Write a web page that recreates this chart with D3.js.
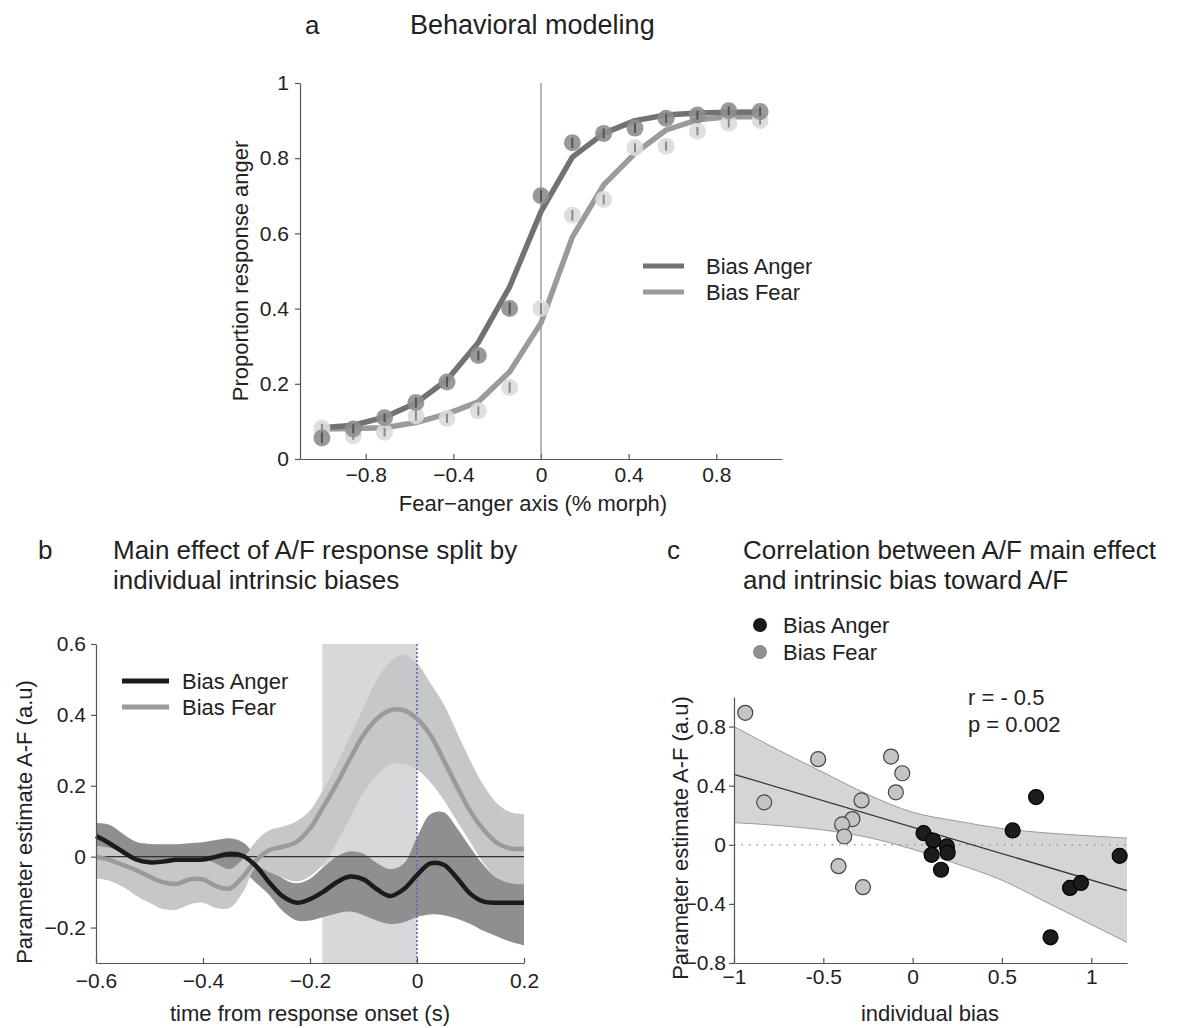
<!DOCTYPE html>
<meta charset="utf-8">
<style>
body { margin: 0; background: #fff; }
svg text { font-family: "Liberation Sans", Arial, sans-serif; fill: #222; }
.axis path, .axis line { stroke: #555; stroke-width: 1.2px; }
.axis text { font-size: 21px; fill: #222; }
.title { font-size: 26px; }
.lab { font-size: 22px; }
</style>
<body>
<script src="https://cdn.jsdelivr.net/npm/d3@7"></script>
<script>

var width = 1189,
    height = 1028;

// ---- panel a: psychometric curves ----
var morph = [-1, -0.857, -0.714, -0.571, -0.429, -0.286, -0.143, 0, 0.143, 0.286, 0.429, 0.571, 0.714, 0.857, 1];
var angerObs = [0.056, 0.08, 0.11, 0.15, 0.205, 0.275, 0.40, 0.70, 0.841, 0.866, 0.88, 0.906, 0.915, 0.926, 0.924];
var fearObs  = [0.082, 0.062, 0.071, 0.115, 0.108, 0.128, 0.19, 0.40, 0.648, 0.69, 0.828, 0.832, 0.872, 0.893, 0.90];
var angerErr = [0.014, 0.012, 0.012, 0.014, 0.014, 0.013, 0.016, 0.016, 0.014, 0.013, 0.013, 0.012, 0.012, 0.012, 0.012];
var fearErr  = [0.012, 0.011, 0.011, 0.013, 0.012, 0.012, 0.014, 0.015, 0.014, 0.013, 0.012, 0.012, 0.011, 0.011, 0.011];
var angerFit = [0.083, 0.09, 0.111, 0.149, 0.21, 0.31, 0.458, 0.658, 0.803, 0.866, 0.90, 0.915, 0.92, 0.922, 0.923];
var fearFit  = [0.08, 0.081, 0.083, 0.097, 0.12, 0.152, 0.232, 0.362, 0.59, 0.729, 0.813, 0.875, 0.902, 0.91, 0.91];
var aXTicks = [-0.8, -0.4, 0, 0.4, 0.8];
var aYTicks = [0, 0.2, 0.4, 0.6, 0.8, 1];

// ---- panel b: time courses ----
var time = [-0.6, -0.575, -0.55, -0.525, -0.5, -0.475, -0.45, -0.425, -0.4, -0.375, -0.35, -0.325, -0.3,
            -0.275, -0.25, -0.225, -0.2, -0.175, -0.15, -0.125, -0.1, -0.075, -0.05, -0.025, 0,
            0.025, 0.05, 0.075, 0.1, 0.125, 0.15, 0.175, 0.2];
var angerMean = [0.058, 0.038, 0.014, -0.008, -0.016, -0.014, -0.009, -0.009, -0.008, 0, 0.008, 0.002, -0.028,
                 -0.075, -0.113, -0.13, -0.12, -0.099, -0.072, -0.056, -0.064, -0.092, -0.111, -0.092, -0.052,
                 -0.019, -0.023, -0.061, -0.105, -0.127, -0.13, -0.13, -0.13];
var angerUp = [0.095, 0.09, 0.065, 0.042, 0.036, 0.035, 0.035, 0.038, 0.041, 0.047, 0.052, 0.04, 0.0,
               -0.035, -0.062, -0.075, -0.062, -0.03, 0.0, 0.015, 0.008, -0.018, -0.035, -0.02, 0.055,
               0.12, 0.125, 0.08, 0.025, -0.025, -0.06, -0.072, -0.075];
var angerLo = [0.02, 0.0, -0.025, -0.05, -0.06, -0.06, -0.055, -0.055, -0.055, -0.045, -0.04, -0.045, -0.075,
               -0.11, -0.155, -0.18, -0.18, -0.17, -0.16, -0.155, -0.165, -0.18, -0.19, -0.185, -0.17,
               -0.163, -0.165, -0.175, -0.19, -0.21, -0.225, -0.24, -0.25];
var fearMean = [0.0, -0.009, -0.023, -0.038, -0.056, -0.072, -0.077, -0.064, -0.064, -0.083, -0.09, -0.056, -0.009,
                0.019, 0.028, 0.042, 0.08, 0.141, 0.206, 0.277, 0.343, 0.389, 0.413, 0.413, 0.389,
                0.343, 0.272, 0.197, 0.127, 0.075, 0.038, 0.023, 0.022];
var fearUp = [0.03, 0.025, 0.01, -0.005, -0.01, -0.012, -0.012, -0.005, -0.005, -0.02, -0.035, -0.005, 0.045,
              0.075, 0.085, 0.10, 0.13, 0.19, 0.26, 0.34, 0.42, 0.50, 0.55, 0.57, 0.545,
              0.49, 0.43, 0.35, 0.27, 0.20, 0.15, 0.125, 0.12];
var fearLo = [-0.061, -0.068, -0.085, -0.11, -0.13, -0.148, -0.15, -0.135, -0.13, -0.145, -0.145, -0.1, -0.03,
              -0.045, -0.06, -0.07, -0.055, -0.02, 0.04, 0.11, 0.18, 0.23, 0.26, 0.262, 0.245,
              0.21, 0.16, 0.10, 0.04, -0.02, -0.06, -0.075, -0.078];
var shadeWin = [-0.177, 0];
var bXTicks = [-0.6, -0.4, -0.2, 0, 0.2];
var bYTicks = [-0.2, 0, 0.2, 0.4, 0.6];

// ---- panel c: correlation ----
var fearBias = [-0.937, -0.831, -0.529, -0.337, -0.395, -0.383, -0.415, -0.286, -0.278, -0.121, -0.058, -0.094];
var fearEff  = [0.893, 0.287, 0.579, 0.174, 0.138, 0.056, -0.145, 0.30, -0.287, 0.597, 0.484, 0.355];
var angerBias = [0.061, 0.115, 0.106, 0.192, 0.196, 0.159, 0.56, 0.691, 0.772, 0.881, 0.942, 1.159];
var angerEff  = [0.079, 0.029, -0.068, -0.011, -0.054, -0.169, 0.097, 0.323, -0.626, -0.292, -0.258, -0.075];
var fitX = [-1, 1.2];
var fitY = [0.477, -0.31];
var ciX  = [-1, -0.75, -0.5, -0.25, 0, 0.25, 0.5, 0.75, 1, 1.2];
var ciUp = [0.80, 0.64, 0.49, 0.34, 0.22, 0.16, 0.11, 0.08, 0.06, 0.045];
var ciLo = [0.15, 0.13, 0.10, 0.05, -0.03, -0.13, -0.24, -0.39, -0.54, -0.66];
var cXTicks = [-1, -0.5, 0, 0.5, 1];
var cXLabels = ["\u22121", "-0.5", "0", "0.5", "1"];
var cYTicks = [-0.8, -0.4, 0, 0.4, 0.8];

var fmt = function(d) { return String(d).replace("-", "\u2212"); };

var svg = d3.select("body").append("svg")
    .attr("width", width)
    .attr("height", height);

// ================= panel a =================
var xa = d3.scaleLinear().domain([-1.1, 1.1]).range([300, 782]);
var ya = d3.scaleLinear().domain([0, 1]).range([459, 83]);

svg.append("g").attr("class", "axis")
    .attr("transform", "translate(0,459)")
    .call(d3.axisBottom(xa).tickValues(aXTicks).tickFormat(fmt).tickSize(-5).tickSizeOuter(0).tickPadding(8));
svg.append("g").attr("class", "axis")
    .attr("transform", "translate(300,0)")
    .call(d3.axisLeft(ya).tickValues(aYTicks).tickFormat(fmt).tickSize(5).tickSizeOuter(0).tickPadding(6));

svg.append("line")
    .attr("x1", xa(0)).attr("x2", xa(0))
    .attr("y1", ya(1)).attr("y2", ya(0))
    .attr("stroke", "#888").attr("stroke-width", 1.2);

var lineA = d3.line().x(function(d, i) { return xa(morph[i]); }).y(function(d) { return ya(d); });

svg.append("path").datum(fearFit).attr("d", lineA)
    .attr("fill", "none").attr("stroke", "#9b9b9b").attr("stroke-width", 5.5).attr("stroke-linejoin", "round");
svg.append("path").datum(angerFit).attr("d", lineA)
    .attr("fill", "none").attr("stroke", "#727272").attr("stroke-width", 5.5).attr("stroke-linejoin", "round");

function drawObs(vals, errs, fill, bar) {
  var g = svg.append("g");
  g.selectAll("circle").data(vals).join("circle")
      .attr("cx", function(d, i) { return xa(morph[i]); })
      .attr("cy", function(d) { return ya(d); })
      .attr("r", 8.5)
      .attr("fill", fill)
      .attr("fill-opacity", 0.9);
  g.selectAll("line").data(vals).join("line")
      .attr("x1", function(d, i) { return xa(morph[i]); })
      .attr("x2", function(d, i) { return xa(morph[i]); })
      .attr("y1", function(d, i) { return ya(d + errs[i]); })
      .attr("y2", function(d, i) { return ya(d - errs[i]); })
      .attr("stroke", bar).attr("stroke-width", 2);
}
drawObs(fearObs, fearErr, "#dcdcdc", "#8a8a8a");
drawObs(angerObs, angerErr, "#8e8e8e", "#555");

var legA = [["Bias Anger", "#727272", 266], ["Bias Fear", "#9b9b9b", 292]];
legA.forEach(function(l) {
  svg.append("line").attr("x1", 643).attr("x2", 684).attr("y1", l[2]).attr("y2", l[2])
      .attr("stroke", l[1]).attr("stroke-width", 5);
  svg.append("text").attr("class", "lab").attr("x", 706).attr("y", l[2] + 8).text(l[0]);
});

svg.append("text").attr("class", "lab").attr("text-anchor", "middle")
    .attr("transform", "translate(248,271) rotate(-90)").text("Proportion response anger");
svg.append("text").attr("class", "lab").attr("text-anchor", "middle")
    .attr("x", xa(0) - 8).attr("y", 511).text("Fear\u2212anger axis (% morph)");

svg.append("text").attr("class", "title").attr("x", 305).attr("y", 34).text("a");
svg.append("text").attr("class", "title").attr("x", 410).attr("y", 34).style("font-size", "27px").text("Behavioral modeling");

// ================= panel b =================
var xb = d3.scaleLinear().domain([-0.6, 0.2]).range([96, 524]);
var yb = d3.scaleLinear().domain([-0.3, 0.6]).range([963, 644]);

svg.append("rect")
    .attr("x", xb(shadeWin[0])).attr("y", yb(0.6))
    .attr("width", xb(shadeWin[1]) - xb(shadeWin[0]))
    .attr("height", yb(-0.3) - yb(0.6))
    .attr("fill", "#d7d8da");

var bandB = function(up, lo) {
  return d3.area().curve(d3.curveCatmullRom)
      .x(function(d, i) { return xb(time[i]); })
      .y0(function(d, i) { return yb(lo[i]); })
      .y1(function(d, i) { return yb(up[i]); });
};
var lineB = d3.line().curve(d3.curveCatmullRom)
    .x(function(d, i) { return xb(time[i]); })
    .y(function(d) { return yb(d); });

// dark band first, the light one is laid over it
svg.append("path").datum(time).attr("d", bandB(angerUp, angerLo)).attr("fill", "#8f8f91");
svg.append("path").datum(time).attr("d", bandB(fearUp, fearLo)).attr("fill", "#c6c7c9");

svg.append("line")
    .attr("x1", xb(-0.6)).attr("x2", xb(0.2)).attr("y1", yb(0)).attr("y2", yb(0))
    .attr("stroke", "#333").attr("stroke-width", 1.3);
svg.append("line")
    .attr("x1", xb(0)).attr("x2", xb(0)).attr("y1", yb(0.6)).attr("y2", yb(-0.3))
    .attr("stroke", "#5468b8").attr("stroke-width", 1.5).attr("stroke-dasharray", "2,2");

svg.append("path").datum(fearMean).attr("d", lineB)
    .attr("fill", "none").attr("stroke", "#9a9a9a").attr("stroke-width", 4.5);
svg.append("path").datum(angerMean).attr("d", lineB)
    .attr("fill", "none").attr("stroke", "#1b1b1b").attr("stroke-width", 4.5);

svg.append("g").attr("class", "axis")
    .attr("transform", "translate(0,963)")
    .call(d3.axisBottom(xb).tickValues(bXTicks).tickFormat(fmt).tickSize(-5).tickSizeOuter(0).tickPadding(10));
svg.append("g").attr("class", "axis")
    .attr("transform", "translate(96,0)")
    .call(d3.axisLeft(yb).tickValues(bYTicks).tickFormat(fmt).tickSize(5).tickSizeOuter(0).tickPadding(5));

var legB = [["Bias Anger", "#1b1b1b", 681], ["Bias Fear", "#9a9a9a", 707]];
legB.forEach(function(l) {
  svg.append("line").attr("x1", 122).attr("x2", 169).attr("y1", l[2]).attr("y2", l[2])
      .attr("stroke", l[1]).attr("stroke-width", 5);
  svg.append("text").attr("class", "lab").attr("x", 182).attr("y", l[2] + 8).text(l[0]);
});

svg.append("text").attr("class", "lab").attr("text-anchor", "middle")
    .attr("transform", "translate(32,822) rotate(-90)").text("Parameter estimate A-F (a.u)");
svg.append("text").attr("class", "lab").attr("text-anchor", "middle")
    .attr("x", 310).attr("y", 1021).text("time from response onset (s)");

svg.append("text").attr("class", "title").attr("x", 38).attr("y", 559).text("b");
svg.append("text").attr("class", "title").attr("x", 113).attr("y", 559).text("Main effect of A/F response split by");
svg.append("text").attr("class", "title").attr("x", 113).attr("y", 589).text("individual intrinsic biases");

// ================= panel c =================
var xc = d3.scaleLinear().domain([-1, 1.2]).range([734, 1127]);
var yc = d3.scaleLinear().domain([-0.8, 1.0]).range([963, 697]);

svg.append("path").datum(ciX)
    .attr("d", d3.area().curve(d3.curveMonotoneX)
        .x(function(d) { return xc(d); })
        .y0(function(d, i) { return yc(ciLo[i]); })
        .y1(function(d, i) { return yc(ciUp[i]); }))
    .attr("fill", "#d4d5d7");
[ciUp, ciLo].forEach(function(edge) {
  svg.append("path").datum(ciX)
      .attr("d", d3.line().curve(d3.curveMonotoneX)
          .x(function(d) { return xc(d); })
          .y(function(d, i) { return yc(edge[i]); }))
      .attr("fill", "none").attr("stroke", "#9a9a9a").attr("stroke-width", 1);
});

svg.append("line")
    .attr("x1", xc(-1)).attr("x2", xc(1.2)).attr("y1", yc(0)).attr("y2", yc(0))
    .attr("stroke", "#888").attr("stroke-width", 1.3).attr("stroke-dasharray", "1.5,6");
svg.append("line")
    .attr("x1", xc(fitX[0])).attr("x2", xc(fitX[1])).attr("y1", yc(fitY[0])).attr("y2", yc(fitY[1]))
    .attr("stroke", "#333").attr("stroke-width", 1.3);

svg.append("g").selectAll("circle").data(fearBias).join("circle")
    .attr("cx", function(d) { return xc(d); })
    .attr("cy", function(d, i) { return yc(fearEff[i]); })
    .attr("r", 7.5)
    .attr("fill", "#c4c4c4").attr("stroke", "#444").attr("stroke-width", 1.2);
svg.append("g").selectAll("circle").data(angerBias).join("circle")
    .attr("cx", function(d) { return xc(d); })
    .attr("cy", function(d, i) { return yc(angerEff[i]); })
    .attr("r", 7.5)
    .attr("fill", "#1c1c1c").attr("stroke", "#000").attr("stroke-width", 1.2);

svg.append("g").attr("class", "axis")
    .attr("transform", "translate(0,963)")
    .call(d3.axisBottom(xc).tickValues(cXTicks)
        .tickFormat(function(d, i) { return cXLabels[i]; })
        .tickSize(-5).tickSizeOuter(0).tickPadding(6));
svg.append("g").attr("class", "axis")
    .attr("transform", "translate(734,0)")
    .call(d3.axisLeft(yc).tickValues(cYTicks).tickFormat(fmt).tickSize(5).tickSizeOuter(0).tickPadding(3));

svg.append("text").attr("class", "lab").attr("x", 968).attr("y", 705).text("r = - 0.5");
svg.append("text").attr("class", "lab").attr("x", 968).attr("y", 732).text("p = 0.002");

var legC = [["Bias Anger", "#1a1a1a", 625], ["Bias Fear", "#8f8f8f", 652]];
legC.forEach(function(l) {
  svg.append("circle").attr("cx", 760).attr("cy", l[2]).attr("r", 7).attr("fill", l[1]);
  svg.append("text").attr("class", "lab").attr("x", 783).attr("y", l[2] + 8).text(l[0]);
});

svg.append("text").attr("class", "lab").attr("text-anchor", "middle")
    .attr("transform", "translate(688,838) rotate(-90)").text("Parameter estimate A-F (a.u)");
svg.append("text").attr("class", "lab").attr("text-anchor", "middle")
    .attr("x", 930).attr("y", 1021).text("individual bias");

svg.append("text").attr("class", "title").attr("x", 667).attr("y", 559).text("c");
svg.append("text").attr("class", "title").attr("x", 743).attr("y", 559).text("Correlation between A/F main effect");
svg.append("text").attr("class", "title").attr("x", 743).attr("y", 589).text("and intrinsic bias toward A/F");

</script>
